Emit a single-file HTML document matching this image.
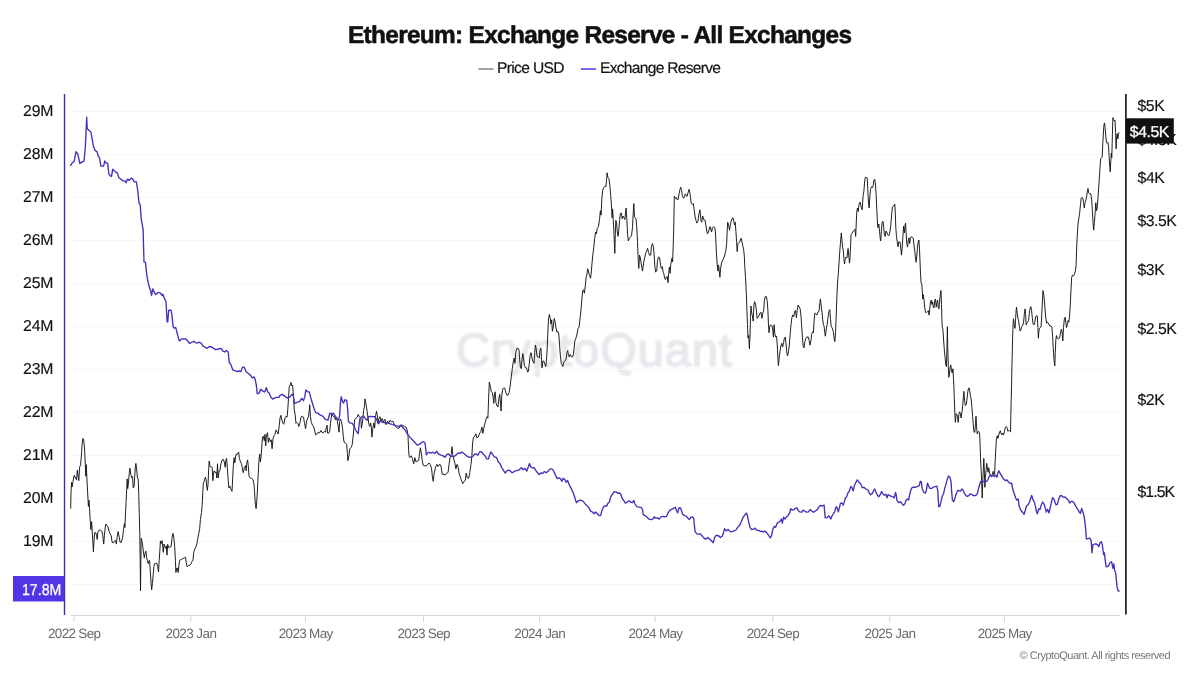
<!DOCTYPE html>
<html lang="en">
<head>
<meta charset="utf-8">
<title>Ethereum: Exchange Reserve - All Exchanges</title>
<style>
  html, body { margin: 0; padding: 0; background: #ffffff; }
  body { width: 1200px; height: 675px; overflow: hidden; font-family: "Liberation Sans", sans-serif; }
  .chart { position: relative; width: 1200px; height: 675px; background: #ffffff; }
  .chart svg { position: absolute; left: 0; top: 0; display: block; }
  svg text { font-family: "Liberation Sans", sans-serif; text-rendering: geometricPrecision; }
  .title { font-size: 24.4px; font-weight: 700; fill: #111111; stroke: #111111; stroke-width: 0.55px; stroke-linejoin: round; }
  .legend { font-size: 15.6px; fill: #141414; stroke: #141414; stroke-width: 0.2px; }
  .ylab { font-size: 15.8px; fill: #111111; stroke: #111111; stroke-width: 0.15px; }
  .xlab { font-size: 13.5px; fill: #6a6a6a; }
  .copy { font-size: 11px; fill: #777777; }
  .wm { font-size: 47px; fill: #e7e7ec; stroke: #e7e7ec; stroke-width: 1.5px; stroke-linejoin: round; }
  .tag { font-size: 15.8px; fill: #ffffff; stroke: #ffffff; stroke-width: 0.3px; }
</style>
</head>
<body>
<div class="chart">
<svg width="1200" height="675" viewBox="0 0 1200 675">
  <defs>
    <filter id="soft" x="-5%" y="-20%" width="110%" height="140%"><feGaussianBlur stdDeviation="1.1"/></filter>
  </defs>

  <!-- title + legend -->
  <text class="title" x="600" y="43" text-anchor="middle" textLength="504" lengthAdjust="spacing">Ethereum: Exchange Reserve - All Exchanges</text>
  <line x1="478.5" y1="69" x2="493.5" y2="69" stroke="#8a8a8a" stroke-width="1.6"/>
  <text class="legend" x="497" y="73" textLength="67.5" lengthAdjust="spacing">Price USD</text>
  <line x1="581" y1="69" x2="596" y2="69" stroke="#5a45e0" stroke-width="1.6"/>
  <text class="legend" x="600" y="73" textLength="121" lengthAdjust="spacing">Exchange Reserve</text>

  <!-- watermark -->
  <text class="wm" x="456" y="366" textLength="276" lengthAdjust="spacing" filter="url(#soft)">CryptoQuant</text>

  <!-- horizontal grid -->
  <g stroke="#f7f7f8" stroke-width="1" shape-rendering="crispEdges">
    <line x1="72" y1="111.4" x2="1120" y2="111.4"/>
    <line x1="72" y1="154.4" x2="1120" y2="154.4"/>
    <line x1="72" y1="197.4" x2="1120" y2="197.4"/>
    <line x1="72" y1="240.4" x2="1120" y2="240.4"/>
    <line x1="72" y1="283.4" x2="1120" y2="283.4"/>
    <line x1="72" y1="326.4" x2="1120" y2="326.4"/>
    <line x1="72" y1="369.4" x2="1120" y2="369.4"/>
    <line x1="72" y1="412.4" x2="1120" y2="412.4"/>
    <line x1="72" y1="455.4" x2="1120" y2="455.4"/>
    <line x1="72" y1="498.4" x2="1120" y2="498.4"/>
    <line x1="72" y1="541.4" x2="1120" y2="541.4"/>
    <line x1="72" y1="584.4" x2="1120" y2="584.4"/>
  </g>

  <!-- bottom axis + ticks -->
  <g stroke="#d6d6d6" stroke-width="1">
    <line x1="71" y1="615.4" x2="1120" y2="615.4"/>
    <line x1="74.0" y1="615.4" x2="74.0" y2="622"/>
    <line x1="190.8" y1="615.4" x2="190.8" y2="622"/>
    <line x1="305.5" y1="615.4" x2="305.5" y2="622"/>
    <line x1="423.5" y1="615.4" x2="423.5" y2="622"/>
    <line x1="539.5" y1="615.4" x2="539.5" y2="622"/>
    <line x1="655.2" y1="615.4" x2="655.2" y2="622"/>
    <line x1="772.8" y1="615.4" x2="772.8" y2="622"/>
    <line x1="889.8" y1="615.4" x2="889.8" y2="622"/>
    <line x1="1004.5" y1="615.4" x2="1004.5" y2="622"/>
  </g>

  <!-- series -->
  <path d="M70.7,508.2 L71.0,492.2 L71.6,482.4 L72.1,486.9 L73.0,481.6 L74.2,475.3 L75.6,478.0 L76.5,479.8 L77.4,470.0 L78.1,476.2 L78.8,480.7 L79.6,467.3 L80.6,464.7 L81.3,456.7 L82.2,443.3 L82.8,438.5 L83.6,439.2 L84.5,447.8 L85.2,462.0 L85.8,476.2 L86.3,464.7 L86.8,476.2 L87.6,492.2 L88.4,506.4 L89.0,500.2 L89.5,508.2 L90.2,520.7 L90.9,529.6 L91.6,521.6 L92.4,533.8 L92.9,542.7 L93.4,551.9 L94.1,539.1 L94.8,532.4 L95.9,532.9 L96.6,535.6 L97.2,539.5 L97.9,532.0 L99.1,530.2 L100.5,529.9 L102.0,531.6 L102.8,535.6 L103.7,544.1 L104.4,535.6 L105.3,526.7 L105.9,524.0 L107.1,525.8 L108.0,527.0 L109.1,531.6 L110.1,533.8 L111.2,535.6 L112.1,542.3 L113.0,543.0 L114.2,541.2 L115.5,540.5 L116.4,544.1 L117.1,537.3 L118.1,531.6 L119.2,537.0 L120.1,542.3 L121.3,542.3 L122.6,537.3 L123.6,529.3 L124.4,523.5 L124.9,527.6 L125.4,516.0 L126.1,501.8 L126.7,488.7 L127.2,478.9 L127.7,488.7 L128.4,483.3 L129.3,472.7 L129.9,468.2 L130.8,474.4 L131.6,477.6 L132.5,476.6 L133.2,487.8 L134.1,486.9 L134.7,476.2 L135.4,466.4 L135.9,463.4 L136.8,470.9 L137.5,478.4 L138.2,478.9 L138.8,495.8 L139.3,515.3 L139.8,535.6 L140.2,562.2 L140.5,591.0 L140.9,558.7 L141.2,538.2 L142.1,541.8 L142.8,546.6 L143.6,553.3 L144.3,557.8 L145.0,553.3 L145.9,551.2 L146.6,556.9 L147.5,561.3 L148.2,563.6 L148.9,560.8 L149.6,560.4 L150.3,571.1 L151.0,581.8 L151.7,589.8 L152.4,583.6 L153.2,574.7 L153.9,566.7 L154.6,563.6 L155.6,563.6 L156.7,563.1 L157.8,566.7 L158.5,572.0 L159.2,560.4 L159.9,549.8 L160.4,541.2 L161.2,543.6 L162.0,540.5 L162.8,547.1 L163.3,552.4 L164.0,544.1 L164.9,546.6 L165.6,548.4 L166.3,545.9 L167.0,555.1 L167.7,544.4 L168.6,547.6 L169.9,547.1 L171.1,546.6 L172.0,538.2 L172.9,533.4 L173.8,537.3 L174.7,546.6 L175.4,560.4 L175.9,572.5 L176.6,568.4 L177.3,567.9 L178.2,572.5 L178.9,565.8 L179.6,560.4 L180.9,559.6 L182.7,558.7 L184.4,557.8 L185.5,557.2 L186.2,562.2 L187.1,566.7 L188.4,565.4 L189.8,565.4 L191.2,563.6 L192.1,561.3 L193.0,560.1 L193.7,552.4 L194.8,548.9 L196.0,546.6 L196.9,543.6 L197.8,538.2 L198.7,534.1 L199.7,528.4 L200.4,519.6 L201.5,512.4 L202.2,504.7 L202.8,492.2 L203.3,483.3 L204.4,480.7 L205.4,477.1 L206.1,479.8 L206.8,486.9 L207.4,490.4 L208.1,483.3 L208.6,470.9 L209.2,461.1 L210.0,466.4 L211.1,467.0 L212.2,467.3 L212.9,480.7 L213.6,472.7 L214.3,470.9 L215.2,472.7 L216.1,471.8 L216.8,478.0 L217.5,463.8 L218.2,478.0 L219.1,470.9 L219.9,470.9 L220.9,463.8 L222.2,459.9 L223.2,459.3 L224.3,462.0 L225.2,467.3 L225.9,459.9 L226.6,458.4 L227.3,467.3 L228.0,478.0 L228.9,487.8 L229.8,486.0 L230.7,488.7 L232.0,491.3 L232.7,478.0 L233.4,464.7 L234.1,457.6 L234.8,462.9 L235.9,454.5 L236.9,454.9 L237.8,453.1 L238.7,452.2 L239.4,458.4 L240.5,462.0 L241.6,463.8 L242.6,470.0 L243.3,472.7 L244.4,467.3 L245.5,465.6 L246.2,470.9 L246.9,462.0 L247.6,459.9 L248.3,465.6 L249.0,476.2 L250.1,478.0 L251.5,478.4 L252.9,479.4 L254.0,484.2 L254.7,494.0 L255.4,504.7 L256.1,508.6 L256.8,501.1 L257.6,486.9 L258.3,472.7 L259.0,460.2 L259.7,454.0 L260.4,462.0 L261.1,456.7 L261.8,446.0 L262.5,437.1 L263.4,436.2 L264.3,440.7 L265.0,434.4 L265.7,446.0 L266.4,436.2 L267.5,432.7 L268.4,442.4 L269.3,438.0 L270.4,441.6 L271.2,439.8 L272.1,448.7 L273.0,438.9 L274.1,435.3 L275.0,434.4 L276.0,430.0 L277.2,432.2 L278.2,434.0 L279.3,425.1 L280.0,418.0 L280.9,415.3 L281.8,419.8 L282.8,423.3 L283.9,424.2 L285.0,418.0 L286.0,416.2 L287.1,417.1 L287.8,409.1 L288.5,398.4 L289.2,386.9 L290.1,385.1 L291.0,382.4 L291.7,386.0 L292.6,385.1 L293.5,396.7 L294.2,409.1 L295.1,414.4 L296.0,423.3 L296.9,422.4 L297.8,423.3 L298.8,426.5 L299.9,423.3 L301.0,417.1 L302.2,416.2 L303.5,417.1 L304.5,423.3 L305.6,428.7 L306.7,420.7 L307.7,418.0 L308.4,417.1 L309.2,410.9 L309.7,404.7 L310.4,416.2 L311.3,422.4 L312.4,425.1 L313.8,426.9 L314.8,431.3 L315.6,434.9 L317.0,434.0 L318.2,432.2 L319.5,433.1 L320.9,430.4 L322.0,432.2 L323.0,433.1 L324.4,431.3 L325.5,432.2 L326.4,426.9 L327.1,425.1 L327.6,433.1 L328.9,433.1 L329.8,430.4 L330.5,423.3 L331.2,418.0 L331.9,413.6 L333.0,416.2 L334.2,416.6 L335.5,419.8 L336.2,417.1 L337.2,420.7 L338.3,426.9 L339.0,432.2 L339.7,421.6 L340.4,418.9 L341.5,421.6 L342.6,428.7 L343.3,436.7 L344.0,442.0 L345.4,442.9 L346.7,444.7 L347.4,453.6 L347.9,460.7 L349.0,455.3 L349.7,449.1 L351.1,447.3 L352.2,444.7 L353.2,435.8 L354.0,426.9 L354.7,419.8 L356.1,418.0 L357.3,417.1 L358.2,414.4 L359.1,416.2 L360.9,418.4 L361.4,428.2 L362.7,421.1 L363.6,410.4 L364.4,406.9 L365.0,398.9 L365.9,403.3 L367.1,411.3 L368.0,417.6 L368.9,424.7 L369.8,426.4 L370.7,422.9 L371.4,428.2 L371.9,437.1 L372.8,428.2 L373.9,422.9 L374.6,428.2 L375.6,415.8 L376.5,411.3 L377.4,415.8 L378.1,423.8 L379.0,418.4 L379.9,416.7 L381.0,421.1 L382.2,418.4 L383.5,422.0 L384.9,419.3 L386.1,424.7 L387.6,421.1 L388.8,422.9 L390.2,420.2 L391.6,422.0 L392.9,421.1 L394.1,423.8 L395.6,426.4 L397.3,428.2 L399.1,428.2 L400.9,424.7 L402.7,425.6 L404.4,426.4 L406.2,427.3 L407.1,430.0 L408.0,435.3 L408.4,446.0 L409.1,456.7 L410.1,457.6 L411.2,455.8 L412.4,458.4 L413.7,463.8 L414.8,457.6 L416.0,462.0 L417.2,461.1 L418.7,460.2 L419.6,453.1 L420.4,447.8 L421.3,453.1 L422.2,460.2 L423.2,465.3 L425.0,465.9 L427.1,465.3 L428.9,463.0 L430.3,464.4 L431.6,468.9 L432.4,476.9 L433.2,481.3 L434.2,473.3 L435.6,467.1 L436.9,464.4 L438.1,466.6 L439.6,464.1 L441.0,466.2 L442.2,474.2 L444.0,474.2 L445.2,475.1 L446.7,473.3 L448.1,472.4 L449.0,464.4 L450.2,457.3 L451.3,453.8 L452.0,446.7 L452.7,454.7 L453.8,459.1 L454.8,462.7 L455.9,468.9 L457.0,464.4 L458.2,467.1 L459.1,473.3 L460.5,477.8 L461.8,481.3 L462.7,483.6 L464.1,481.3 L465.3,480.4 L466.2,473.0 L467.3,477.8 L468.7,478.3 L469.8,472.4 L471.0,464.4 L471.9,455.6 L472.6,443.1 L473.3,437.8 L474.8,436.0 L475.8,433.9 L476.9,437.8 L478.3,436.9 L479.6,433.3 L480.8,431.6 L481.9,427.1 L482.9,433.3 L484.0,427.1 L485.1,422.7 L485.8,420.0 L487.0,416.7 L487.9,418.1 L488.6,398.9 L489.3,382.0 L490.2,385.6 L491.3,391.8 L492.4,392.7 L493.1,397.1 L493.8,403.3 L494.5,393.6 L495.2,391.8 L495.9,402.4 L497.0,406.0 L498.0,406.9 L499.1,397.1 L499.8,394.4 L500.5,404.2 L501.1,411.0 L501.8,395.3 L502.7,389.1 L503.7,387.9 L504.8,388.2 L505.9,392.7 L506.9,395.3 L508.0,395.0 L509.1,392.7 L510.1,386.4 L511.2,377.6 L512.3,368.7 L513.3,361.6 L514.2,358.0 L514.9,363.3 L515.8,352.7 L516.9,348.2 L518.0,348.2 L519.0,350.0 L519.7,359.8 L520.4,366.9 L521.3,368.7 L522.0,359.8 L522.8,353.6 L523.6,358.9 L524.4,365.1 L525.4,367.8 L526.5,367.8 L527.6,372.2 L528.4,371.3 L529.3,363.3 L530.2,355.3 L531.1,352.7 L532.0,358.0 L532.9,361.6 L534.0,363.3 L534.7,352.7 L535.4,345.2 L536.1,348.2 L537.0,356.2 L538.2,357.1 L539.3,358.0 L540.0,350.0 L540.9,348.2 L541.4,356.2 L542.0,367.8 L542.7,361.6 L543.6,360.7 L544.6,363.3 L545.7,366.5 L546.4,361.6 L547.1,350.0 L547.8,333.1 L548.5,318.9 L549.4,314.4 L550.3,318.9 L551.0,324.2 L551.7,319.8 L552.4,331.3 L553.3,326.9 L554.2,318.5 L555.1,321.6 L556.0,327.8 L556.9,332.2 L557.8,331.3 L558.8,334.0 L559.6,345.6 L560.4,356.2 L561.3,363.3 L562.8,366.5 L563.8,362.4 L564.9,360.7 L566.0,359.8 L567.0,352.7 L567.7,350.5 L568.4,354.4 L569.3,357.1 L570.2,354.4 L571.3,356.6 L572.4,357.1 L573.4,354.4 L574.1,348.2 L574.8,341.1 L575.9,338.4 L577.0,334.0 L578.0,328.7 L579.1,326.9 L580.0,318.9 L580.9,310.9 L581.8,300.0 L582.7,291.1 L583.6,289.7 L584.4,293.2 L585.3,285.8 L586.2,276.9 L587.0,273.8 L587.7,268.8 L588.4,271.1 L589.5,275.6 L590.6,278.2 L591.3,272.0 L592.0,263.1 L592.9,254.2 L593.8,247.1 L594.7,238.2 L595.6,232.0 L596.4,233.8 L597.3,228.4 L598.4,226.7 L599.5,219.6 L600.4,210.7 L601.1,215.1 L601.8,199.1 L602.7,190.2 L603.7,187.6 L604.8,186.3 L605.9,186.7 L606.6,179.6 L607.1,172.8 L608.0,177.8 L608.9,178.7 L609.8,184.9 L610.7,195.6 L611.6,208.0 L612.1,217.8 L612.6,208.9 L613.3,220.4 L614.0,234.7 L614.8,253.3 L615.3,234.7 L615.8,220.4 L616.5,222.2 L617.2,231.1 L618.0,236.4 L618.7,231.1 L619.6,220.4 L620.4,213.3 L621.3,213.0 L622.2,218.7 L623.1,216.0 L624.0,217.8 L624.9,219.6 L625.6,211.6 L626.1,208.0 L626.8,218.7 L627.6,234.7 L628.3,240.9 L629.3,238.2 L630.4,237.3 L631.5,235.6 L632.5,227.6 L633.2,213.3 L633.8,203.6 L634.5,216.9 L635.4,217.8 L636.1,219.6 L636.8,227.6 L637.5,241.8 L638.2,259.6 L638.8,268.4 L639.5,255.1 L640.4,257.8 L641.4,264.9 L642.5,271.1 L643.6,263.1 L644.6,257.8 L645.7,253.3 L646.8,250.7 L647.6,248.4 L648.5,252.4 L649.6,255.1 L650.7,255.1 L651.4,247.1 L652.4,243.6 L653.5,247.1 L654.2,256.0 L654.9,266.7 L655.6,272.0 L656.7,271.1 L657.4,261.3 L658.5,256.9 L659.6,257.8 L660.4,264.0 L661.3,268.4 L662.4,266.7 L663.1,272.0 L663.7,273.3 L664.8,278.7 L665.5,279.6 L666.4,276.9 L667.3,276.5 L668.0,282.6 L668.7,273.3 L669.4,267.1 L670.1,273.3 L670.8,264.4 L671.9,258.2 L672.6,261.8 L673.2,246.7 L673.7,228.9 L674.3,196.4 L675.2,198.2 L676.3,197.3 L677.3,200.0 L678.2,199.1 L679.1,193.8 L680.0,189.3 L680.7,187.2 L681.6,190.2 L682.3,195.6 L683.4,198.2 L684.4,197.3 L685.2,193.8 L685.9,194.7 L686.9,196.4 L688.0,192.9 L689.1,189.3 L689.8,192.0 L690.5,197.3 L691.2,203.6 L692.3,204.4 L693.3,203.6 L694.2,209.8 L695.1,216.9 L696.0,220.4 L696.9,223.1 L698.0,221.3 L698.7,215.1 L700.0,209.8 L700.9,220.4 L701.8,222.2 L702.7,216.0 L703.6,219.6 L705.0,220.1 L706.0,225.8 L706.8,231.1 L707.5,233.8 L708.5,232.0 L709.6,227.2 L710.3,226.7 L711.0,230.2 L711.7,232.0 L712.4,227.6 L713.5,226.7 L714.6,227.2 L715.3,231.1 L715.8,240.0 L716.5,254.2 L717.2,264.9 L718.0,271.1 L718.5,264.9 L719.2,270.2 L719.9,277.3 L720.6,268.4 L721.7,262.2 L723.1,259.6 L724.5,256.0 L725.8,250.7 L726.7,243.6 L727.2,231.1 L727.7,222.2 L728.6,224.9 L729.5,230.2 L730.2,225.8 L731.1,221.3 L732.0,218.7 L733.1,217.8 L733.8,221.3 L734.5,224.9 L735.2,222.2 L735.9,231.1 L736.6,241.8 L737.2,251.6 L737.9,243.6 L738.8,242.7 L739.8,242.1 L740.5,239.1 L741.2,238.2 L742.0,241.8 L742.7,245.3 L743.6,248.9 L744.3,256.0 L744.8,266.7 L745.5,277.3 L746.4,294.4 L746.9,310.4 L747.5,324.7 L748.0,338.0 L748.7,335.3 L749.4,348.7 L750.0,335.3 L750.5,317.6 L751.0,306.0 L751.7,313.1 L752.4,315.8 L753.2,321.1 L753.9,305.1 L754.6,301.6 L755.5,304.2 L756.4,310.4 L757.1,318.4 L758.0,317.2 L759.0,315.8 L760.1,313.1 L761.0,312.2 L761.9,318.4 L762.8,313.1 L763.6,311.3 L764.4,300.7 L765.2,296.6 L766.3,296.6 L767.2,300.7 L767.9,310.4 L768.4,322.9 L769.0,332.7 L769.7,326.4 L770.8,324.7 L771.8,325.6 L772.7,329.1 L773.4,337.1 L774.1,324.7 L774.8,333.6 L775.7,337.1 L776.6,336.2 L777.3,346.0 L777.9,358.4 L778.4,365.6 L779.3,356.7 L780.0,351.3 L780.9,346.0 L781.8,343.3 L782.7,346.9 L783.6,342.4 L784.4,338.0 L785.3,337.1 L786.2,346.0 L786.9,353.1 L787.6,355.8 L788.5,351.3 L789.2,346.0 L790.1,335.3 L791.0,324.7 L791.9,317.6 L792.8,314.9 L793.7,316.7 L794.6,311.3 L795.5,310.4 L796.4,317.6 L797.2,310.4 L798.1,305.1 L799.2,306.9 L800.1,308.7 L801.0,315.8 L801.7,326.4 L802.4,337.1 L803.1,346.0 L804.0,347.8 L804.9,341.6 L806.0,338.0 L807.0,337.1 L808.1,336.8 L809.2,340.7 L810.0,345.1 L810.9,340.7 L811.8,333.6 L812.7,331.8 L813.4,332.7 L814.1,321.1 L814.8,313.1 L815.9,314.0 L817.0,314.9 L818.0,312.2 L819.1,310.4 L819.8,303.3 L820.4,298.9 L821.1,305.1 L822.0,312.2 L822.7,319.3 L823.4,324.7 L824.1,326.4 L824.8,332.7 L825.3,336.2 L826.2,330.0 L827.1,324.7 L828.0,317.6 L828.9,311.3 L829.8,309.6 L830.5,319.3 L831.2,326.4 L832.3,328.2 L833.3,331.8 L834.2,338.9 L834.9,341.6 L835.6,331.8 L836.2,315.8 L836.9,296.2 L837.6,282.0 L838.3,273.8 L839.0,263.1 L839.7,252.4 L840.4,243.6 L841.0,236.4 L841.3,232.9 L841.9,240.0 L842.6,247.1 L843.3,250.7 L844.0,259.6 L844.5,264.0 L845.2,259.6 L846.1,256.9 L847.0,257.8 L847.6,251.6 L848.1,248.5 L848.8,256.0 L849.5,263.1 L850.0,258.7 L850.6,245.3 L851.1,234.7 L852.2,232.9 L853.2,231.1 L854.3,230.2 L855.0,229.3 L855.7,236.4 L856.3,222.2 L856.8,211.6 L857.5,208.0 L858.2,211.6 L858.9,205.3 L859.6,202.3 L860.4,202.7 L861.3,207.6 L862.2,209.8 L863.1,195.6 L863.8,192.0 L864.5,183.1 L865.2,177.4 L866.3,177.4 L867.2,177.8 L867.9,192.0 L868.6,204.4 L869.2,208.0 L869.9,195.6 L870.6,189.3 L871.5,186.7 L872.4,187.6 L873.1,185.8 L873.8,180.4 L874.7,179.2 L875.4,184.0 L876.1,193.8 L876.8,209.8 L877.5,224.0 L878.0,227.6 L878.8,224.0 L879.5,231.1 L880.2,238.2 L880.7,240.9 L881.4,231.1 L882.1,222.2 L883.0,221.3 L883.7,227.6 L884.4,234.7 L885.2,236.4 L885.9,231.1 L886.8,232.0 L887.6,234.7 L888.9,235.6 L889.8,232.9 L890.7,225.8 L891.6,215.1 L892.4,207.1 L893.3,206.6 L894.0,205.3 L894.8,204.1 L895.3,213.3 L895.8,227.6 L896.5,236.4 L897.2,241.8 L898.0,246.8 L898.8,241.8 L900.1,242.1 L900.8,248.9 L901.5,255.1 L902.2,247.1 L902.9,236.4 L903.6,226.1 L904.4,232.9 L905.1,224.9 L905.6,223.1 L906.1,232.9 L906.8,243.6 L907.6,247.1 L908.3,240.0 L909.0,237.9 L909.7,243.6 L910.4,238.2 L911.1,236.8 L912.2,237.3 L913.2,238.2 L914.0,245.3 L914.7,250.7 L915.4,256.9 L916.1,262.2 L916.8,256.0 L917.5,247.1 L918.2,241.8 L918.9,240.0 L919.5,248.9 L920.0,261.3 L920.5,273.8 L921.1,283.1 L921.8,284.0 L922.3,292.0 L922.8,299.1 L923.4,294.7 L924.1,300.9 L924.8,308.0 L925.5,312.4 L926.6,312.4 L927.6,311.6 L928.4,310.7 L929.1,315.1 L929.8,308.0 L930.5,301.8 L931.2,300.0 L931.9,304.4 L932.6,301.8 L933.3,307.1 L934.0,308.0 L934.8,300.0 L935.5,299.1 L936.2,307.1 L936.9,302.7 L937.6,300.0 L938.3,308.0 L939.0,308.9 L939.7,300.0 L940.4,293.8 L941.0,290.6 L941.5,304.4 L941.9,318.7 L942.2,326.7 L942.9,329.3 L943.6,340.0 L944.4,350.7 L945.1,357.8 L945.8,364.9 L946.5,366.7 L947.0,345.3 L947.4,326.7 L947.7,345.3 L948.3,366.7 L948.8,377.3 L949.5,373.8 L950.2,366.7 L950.8,364.9 L951.5,370.2 L952.2,372.9 L952.9,368.8 L953.4,377.3 L953.8,384.2 L954.3,398.4 L954.8,412.7 L955.4,422.4 L956.1,413.6 L956.8,414.4 L957.5,416.2 L958.2,422.4 L958.9,414.4 L959.6,411.8 L960.4,413.6 L961.1,418.0 L962.0,411.8 L962.7,405.6 L963.4,396.7 L963.9,391.3 L964.6,400.2 L965.3,405.6 L966.2,404.7 L966.9,400.2 L967.6,393.1 L968.4,388.7 L969.1,387.8 L969.8,391.3 L970.5,396.7 L971.2,399.3 L971.9,407.3 L972.6,416.2 L973.3,425.1 L974.0,432.2 L974.8,432.2 L975.5,423.3 L976.0,416.2 L976.5,425.1 L977.2,434.0 L978.0,432.2 L978.7,431.3 L979.6,433.1 L980.1,444.7 L980.6,458.9 L981.2,471.3 L981.7,482.0 L982.2,498.0 L982.8,480.2 L983.3,469.6 L983.8,458.4 L984.4,473.1 L984.9,487.3 L985.4,478.4 L986.1,469.6 L986.7,463.3 L987.4,467.8 L988.1,472.2 L988.8,467.8 L989.5,473.1 L990.4,474.9 L991.5,475.8 L992.5,474.0 L993.2,471.3 L994.0,474.9 L994.7,473.1 L995.2,460.7 L995.7,450.0 L996.4,439.3 L997.2,435.8 L997.9,438.4 L998.8,434.9 L999.6,431.9 L1000.4,430.8 L1001.1,434.0 L1001.8,434.9 L1002.8,433.1 L1003.6,434.9 L1004.4,431.3 L1005.3,427.8 L1006.2,426.5 L1007.1,427.8 L1008.0,431.3 L1008.9,430.4 L1009.8,431.3 L1010.5,431.9 L1010.8,416.2 L1011.2,400.2 L1011.6,384.2 L1011.9,366.7 L1012.3,352.4 L1012.6,338.2 L1013.0,325.8 L1013.5,318.7 L1014.0,323.1 L1014.6,327.6 L1015.1,328.4 L1015.6,318.7 L1016.2,309.8 L1016.5,307.1 L1017.2,313.3 L1018.0,318.7 L1018.7,321.3 L1019.4,326.7 L1020.1,331.1 L1020.8,330.2 L1021.5,326.7 L1022.6,325.8 L1023.6,322.2 L1024.4,313.3 L1025.1,308.9 L1025.6,313.3 L1026.1,324.9 L1026.8,323.1 L1027.6,322.2 L1028.6,320.4 L1029.3,313.3 L1030.2,308.0 L1030.9,306.6 L1031.6,310.7 L1032.4,318.7 L1033.1,324.0 L1034.0,324.9 L1034.8,322.2 L1035.6,316.9 L1036.4,315.5 L1037.3,316.0 L1037.9,327.6 L1038.4,338.2 L1038.9,331.1 L1039.5,328.4 L1040.0,327.6 L1041.1,326.7 L1041.8,313.3 L1042.5,299.1 L1043.0,290.6 L1043.9,295.6 L1044.8,306.2 L1045.7,316.9 L1046.6,323.1 L1047.6,322.2 L1048.7,324.0 L1049.8,326.1 L1050.8,325.8 L1051.9,327.2 L1052.6,336.4 L1053.3,348.9 L1054.0,359.6 L1054.8,365.8 L1055.3,352.4 L1055.8,340.0 L1056.5,335.6 L1057.4,338.2 L1058.3,339.1 L1059.4,338.2 L1060.4,333.8 L1061.3,329.3 L1062.0,331.1 L1062.8,340.9 L1063.5,327.6 L1064.4,318.7 L1065.1,317.2 L1065.8,322.2 L1066.5,327.6 L1067.4,324.0 L1068.1,320.4 L1068.8,322.2 L1069.5,316.9 L1070.2,306.2 L1070.9,292.0 L1071.6,277.8 L1072.4,275.1 L1073.4,276.0 L1074.5,274.2 L1075.4,270.7 L1076.1,265.3 L1076.6,248.9 L1077.3,234.7 L1078.0,224.0 L1078.8,218.7 L1079.6,213.3 L1080.5,204.4 L1081.2,198.2 L1082.0,197.3 L1082.8,198.2 L1083.6,202.7 L1084.3,208.0 L1085.0,202.7 L1085.9,200.0 L1086.8,195.6 L1087.5,190.2 L1088.0,188.4 L1088.7,192.9 L1089.8,193.8 L1090.8,193.8 L1091.6,199.1 L1092.3,209.8 L1093.0,222.2 L1093.7,230.2 L1094.4,222.2 L1095.1,213.3 L1095.8,202.7 L1096.5,210.7 L1097.2,208.0 L1098.0,197.3 L1098.7,186.9 L1099.4,177.1 L1100.1,166.4 L1100.8,158.4 L1101.5,157.6 L1102.2,157.2 L1102.8,143.3 L1103.5,130.9 L1104.0,124.7 L1104.5,122.9 L1105.1,127.3 L1105.8,136.2 L1106.5,142.4 L1107.2,143.3 L1107.9,142.4 L1108.6,146.9 L1109.2,157.6 L1109.7,166.4 L1110.2,171.8 L1110.8,161.1 L1111.3,153.1 L1111.8,157.6 L1112.4,134.4 L1112.9,117.6 L1113.6,119.3 L1114.3,121.1 L1115.0,120.2 L1115.6,132.7 L1116.1,148.7 L1116.6,138.0 L1117.2,133.6 L1117.9,138.9 L1118.4,134.4 L1118.9,132.7" fill="none" stroke="#141414" stroke-width="0.95" stroke-linejoin="round" stroke-linecap="round"/>
  <path d="M70.7,165.4 L72.1,163.1 L74.2,161.3 L76.0,151.6 L77.8,154.2 L79.9,163.5 L82.2,161.9 L84.0,161.3 L85.4,146.2 L86.7,117.2 L87.2,128.4 L88.8,130.2 L90.9,132.0 L93.4,146.2 L95.2,150.7 L97.0,151.6 L98.2,156.0 L99.5,157.8 L100.9,166.1 L103.6,166.1 L104.8,161.0 L106.2,163.1 L107.6,163.1 L108.9,173.8 L110.7,176.4 L111.6,176.1 L112.6,169.3 L115.1,171.5 L117.2,172.9 L119.0,177.7 L121.3,179.5 L123.1,180.9 L124.9,180.9 L126.0,182.7 L127.6,179.1 L129.3,180.4 L131.1,178.2 L132.5,178.6 L134.3,181.8 L136.4,181.8 L137.5,188.9 L139.1,203.1 L140.2,204.9 L141.3,219.6 L143.1,229.3 L143.6,248.0 L144.0,261.9 L145.4,262.2 L147.0,276.4 L148.8,285.3 L150.6,290.7 L151.6,295.5 L152.7,288.9 L154.4,292.4 L155.7,294.6 L158.0,292.4 L160.3,292.8 L162.1,295.6 L162.8,294.2 L164.6,298.7 L166.0,301.7 L167.1,321.8 L167.8,321.8 L168.7,310.2 L171.0,310.2 L172.0,315.6 L173.1,326.6 L174.2,328.0 L175.8,327.6 L177.6,335.1 L179.3,341.0 L182.0,338.7 L183.8,339.2 L185.6,338.7 L187.3,340.4 L189.5,343.5 L191.8,342.2 L194.1,341.3 L195.3,342.6 L197.1,343.1 L198.9,342.2 L201.2,343.1 L203.0,346.1 L205.1,347.2 L206.9,348.4 L209.0,346.7 L211.3,346.7 L213.6,348.4 L215.8,349.7 L218.4,349.0 L221.1,348.4 L222.9,351.1 L224.7,352.0 L226.4,350.6 L228.2,352.0 L229.3,362.7 L230.9,364.4 L232.7,369.8 L235.0,370.7 L237.1,371.6 L238.9,371.0 L241.0,371.6 L242.4,367.1 L244.2,367.1 L246.0,371.6 L248.1,373.3 L250.4,375.1 L252.2,377.8 L254.0,376.9 L255.2,379.6 L256.3,384.9 L257.2,393.8 L259.3,392.9 L260.6,389.3 L262.9,391.1 L264.7,392.0 L266.4,387.6 L267.7,392.0 L269.1,392.9 L270.9,397.3 L272.7,399.1 L274.4,398.2 L276.6,397.3 L278.9,397.3 L280.0,395.3 L282.1,394.4 L284.4,395.9 L287.1,398.0 L289.8,397.1 L292.1,394.1 L293.3,396.2 L294.6,403.3 L296.9,402.4 L299.6,401.6 L301.7,398.4 L303.5,400.7 L304.9,396.2 L305.8,390.0 L307.6,391.8 L309.3,391.8 L310.6,397.1 L312.4,403.3 L314.1,408.7 L315.6,412.6 L317.7,413.1 L320.0,414.9 L322.7,416.1 L325.3,419.3 L328.0,420.2 L329.8,413.1 L331.9,414.0 L333.3,413.1 L335.1,415.8 L336.9,418.4 L338.3,420.2 L339.6,415.8 L340.4,403.3 L341.2,396.6 L342.6,401.6 L343.6,403.0 L344.9,399.8 L346.7,400.1 L347.6,408.7 L348.4,421.1 L349.7,422.9 L352.0,423.2 L353.8,425.6 L355.6,430.0 L357.3,432.7 L358.2,433.6 L359.1,424.7 L360.0,418.4 L361.8,416.7 L363.6,416.1 L365.3,418.4 L367.1,420.2 L368.4,416.7 L370.7,416.3 L373.3,416.7 L375.1,416.7 L376.9,420.2 L378.7,423.8 L379.9,421.1 L382.2,422.0 L384.9,422.9 L387.6,423.2 L390.2,423.8 L392.9,424.7 L395.6,425.6 L398.2,426.4 L400.9,425.6 L402.7,427.3 L404.4,429.1 L406.2,431.8 L408.0,435.0 L409.8,437.1 L412.4,439.8 L415.1,442.8 L417.2,445.1 L419.6,444.2 L421.7,442.4 L423.6,441.6 L425.1,443.3 L425.8,449.6 L426.3,454.9 L428.4,452.2 L430.8,453.1 L432.9,452.2 L434.7,453.5 L436.8,451.3 L438.2,454.0 L438.7,454.1 L441.0,455.2 L443.1,455.9 L444.9,457.3 L446.7,454.7 L448.1,453.8 L449.9,455.6 L452.0,456.4 L454.1,456.4 L456.4,454.7 L458.2,452.9 L460.0,453.4 L461.8,452.0 L464.1,453.8 L466.2,455.6 L468.4,457.0 L470.7,457.3 L472.8,456.4 L474.2,454.7 L476.0,453.8 L477.8,455.2 L479.6,452.0 L481.3,451.6 L483.1,454.1 L484.9,455.6 L486.7,458.8 L488.4,459.1 L489.7,454.7 L490.8,452.0 L492.5,454.1 L494.3,457.0 L496.4,457.3 L498.2,461.8 L500.0,463.6 L501.8,467.6 L503.6,470.7 L505.3,473.0 L507.1,470.7 L508.9,470.1 L510.7,471.6 L512.4,472.8 L514.6,471.2 L516.9,470.7 L519.2,469.8 L521.3,467.6 L523.1,469.8 L524.9,468.4 L526.7,471.2 L528.4,466.6 L529.5,463.6 L530.6,466.6 L532.4,468.0 L534.1,467.6 L535.9,470.7 L537.7,473.0 L539.1,474.6 L540.9,473.0 L542.7,473.3 L544.4,471.6 L546.2,472.8 L548.0,471.2 L550.1,468.9 L551.9,468.9 L553.7,471.2 L555.5,475.1 L557.2,478.7 L559.0,477.8 L560.4,478.7 L561.9,481.3 L563.1,478.3 L564.9,479.6 L566.1,482.2 L567.6,480.4 L569.3,484.9 L571.1,488.4 L572.9,492.0 L574.7,497.3 L576.4,502.7 L578.2,500.9 L580.4,500.1 L582.8,500.8 L584.9,503.6 L587.0,505.8 L588.8,507.6 L590.6,511.1 L592.4,512.0 L594.1,513.8 L595.6,512.0 L597.3,513.8 L599.1,515.6 L600.5,515.6 L601.8,511.1 L603.6,506.7 L605.3,505.8 L606.6,506.1 L608.0,503.1 L609.4,502.2 L610.7,496.9 L612.4,494.2 L614.2,491.6 L616.0,491.9 L617.8,493.3 L619.6,493.0 L620.8,494.2 L621.9,497.8 L623.6,500.4 L625.4,503.1 L627.2,502.2 L629.0,500.8 L630.8,502.2 L632.5,502.6 L633.8,500.4 L635.0,504.0 L636.8,506.7 L639.1,507.2 L641.4,507.6 L642.7,510.2 L643.2,514.7 L645.0,515.6 L647.1,517.3 L648.9,519.1 L651.0,519.6 L652.8,519.1 L654.2,516.8 L655.6,518.2 L657.4,517.9 L659.2,519.1 L661.0,516.8 L663.1,516.4 L665.2,516.8 L666.7,516.1 L668.1,512.9 L669.9,510.2 L671.6,509.3 L673.4,508.4 L675.2,507.2 L676.4,510.2 L677.7,512.9 L678.8,508.4 L680.0,507.6 L681.2,509.7 L682.7,514.3 L684.4,515.6 L686.2,516.1 L688.0,518.2 L689.4,519.6 L690.8,517.3 L692.4,516.8 L693.7,518.2 L694.4,525.3 L695.1,531.6 L696.9,533.9 L698.7,534.2 L700.4,533.9 L702.2,536.0 L704.0,538.1 L705.8,539.2 L707.6,537.4 L709.3,538.7 L711.1,540.4 L713.2,542.8 L714.7,537.4 L716.4,535.1 L718.2,536.0 L718.7,535.7 L720.4,537.5 L722.2,536.2 L723.5,532.7 L724.5,528.6 L726.3,530.9 L728.1,529.5 L729.9,531.4 L731.6,531.8 L733.8,530.9 L735.9,530.0 L737.7,527.3 L739.5,525.6 L741.2,522.0 L743.0,517.6 L744.8,514.9 L746.6,513.1 L747.6,516.7 L748.9,522.9 L750.1,527.3 L751.6,529.6 L753.3,529.1 L755.1,528.2 L756.9,530.4 L758.7,530.4 L760.4,531.4 L762.2,531.2 L763.6,532.1 L764.9,530.9 L766.7,532.7 L768.4,535.0 L770.2,538.0 L771.5,535.7 L772.9,529.1 L774.3,526.4 L775.6,527.3 L777.3,522.9 L779.1,522.0 L780.4,520.8 L781.4,519.0 L782.3,523.2 L783.6,517.2 L785.0,519.0 L786.2,517.2 L788.0,515.4 L789.8,512.6 L790.7,508.7 L792.1,510.1 L793.9,509.6 L795.6,508.3 L796.9,507.8 L798.1,510.4 L799.9,511.9 L801.7,512.2 L803.1,510.1 L804.9,511.3 L806.7,512.2 L808.4,511.9 L810.2,509.6 L812.0,511.3 L813.8,512.2 L815.6,510.8 L817.3,509.6 L818.8,506.9 L820.5,505.5 L822.3,506.0 L824.1,505.1 L824.6,511.3 L825.2,517.6 L826.9,517.9 L828.7,515.8 L829.8,517.2 L830.8,519.0 L831.9,516.1 L833.3,514.0 L834.8,511.3 L836.0,506.9 L836.9,507.2 L838.3,511.9 L839.6,506.9 L840.4,503.3 L841.9,503.0 L843.3,505.1 L844.4,501.6 L845.4,498.0 L846.7,496.6 L847.9,493.0 L849.3,491.2 L850.8,486.4 L852.0,487.7 L853.2,490.9 L854.7,484.7 L856.1,482.0 L857.3,479.9 L858.6,482.0 L859.2,482.2 L861.0,484.4 L862.2,487.9 L864.0,487.2 L865.8,489.0 L868.1,490.2 L869.3,493.2 L870.6,494.7 L872.4,493.2 L873.8,490.2 L874.7,489.0 L875.9,492.0 L877.3,495.0 L878.8,496.8 L880.2,494.7 L881.6,491.5 L882.7,493.8 L884.1,495.0 L885.9,494.3 L887.1,497.9 L888.0,494.7 L889.8,495.6 L891.6,496.4 L893.0,496.8 L894.2,497.9 L895.5,492.5 L896.2,494.7 L896.9,500.4 L898.7,502.7 L900.4,501.8 L902.2,503.9 L903.6,505.3 L904.9,503.6 L906.1,500.0 L907.6,499.1 L908.6,500.0 L909.7,494.7 L910.8,490.2 L912.0,487.6 L913.8,487.2 L915.6,487.2 L917.3,486.7 L919.1,485.8 L920.4,481.3 L921.4,481.9 L922.1,488.4 L923.6,492.0 L925.3,493.2 L926.4,490.2 L927.5,483.1 L928.5,485.4 L929.8,488.4 L931.6,488.4 L933.3,487.2 L935.1,486.7 L936.9,486.1 L937.8,491.1 L938.3,500.0 L938.8,506.8 L939.9,506.2 L941.0,501.8 L942.2,496.4 L943.5,493.8 L944.9,487.6 L945.8,484.9 L947.0,480.4 L948.4,476.0 L949.9,477.2 L951.1,482.2 L951.6,491.1 L952.4,500.0 L953.8,501.8 L954.7,499.1 L955.6,495.6 L957.0,492.0 L958.2,490.2 L959.5,491.1 L960.5,491.1 L961.8,489.0 L963.0,490.2 L964.4,493.2 L965.9,495.6 L967.3,496.4 L968.9,495.6 L970.1,493.8 L971.6,494.3 L973.3,495.6 L975.1,495.6 L976.9,494.7 L978.0,491.1 L979.0,486.7 L980.4,482.2 L981.7,480.4 L983.1,481.3 L984.9,481.9 L986.7,481.3 L987.9,479.6 L989.0,476.9 L990.2,474.8 L991.5,476.5 L992.9,475.5 L994.3,476.5 L995.6,475.1 L996.8,477.2 L997.9,473.3 L998.8,470.7 L999.9,472.9 L1001.7,475.9 L1003.5,479.1 L1005.2,480.5 L1007.0,480.0 L1008.8,482.3 L1010.2,483.6 L1011.6,483.0 L1012.9,489.8 L1014.1,493.3 L1015.6,497.8 L1016.8,500.1 L1018.2,499.0 L1019.1,505.8 L1020.5,509.7 L1022.3,512.0 L1024.1,514.3 L1025.3,510.2 L1026.6,505.8 L1028.0,504.9 L1029.4,502.2 L1030.7,498.3 L1031.6,495.5 L1033.0,499.6 L1034.4,502.2 L1035.5,506.7 L1036.5,512.0 L1037.4,513.8 L1038.7,509.0 L1040.1,509.3 L1041.3,504.9 L1042.6,501.9 L1044.0,504.0 L1045.4,508.4 L1046.3,512.0 L1047.6,509.3 L1049.0,512.9 L1050.2,507.6 L1051.5,502.2 L1052.5,497.8 L1053.8,498.7 L1055.0,502.2 L1056.1,504.9 L1057.3,504.4 L1058.6,499.6 L1060.0,496.0 L1061.4,495.5 L1063.2,497.2 L1065.0,496.9 L1066.8,498.7 L1068.5,500.4 L1069.8,503.1 L1071.0,501.3 L1072.4,501.3 L1074.2,503.1 L1076.0,506.7 L1077.8,509.3 L1079.2,512.0 L1080.4,513.2 L1081.7,508.4 L1082.8,512.0 L1084.0,515.6 L1084.9,521.8 L1085.8,530.7 L1086.3,538.7 L1088.1,538.7 L1089.9,538.1 L1091.1,540.4 L1091.6,546.7 L1092.0,552.9 L1092.9,544.9 L1094.7,544.0 L1096.4,544.0 L1097.7,544.9 L1098.8,546.7 L1100.0,542.8 L1101.4,541.7 L1102.3,544.9 L1103.0,550.2 L1103.7,554.7 L1104.4,552.8 L1105.3,560.6 L1106.2,566.8 L1108.4,566.1 L1110.0,562.8 L1111.6,561.7 L1112.9,568.3 L1113.8,563.9 L1114.7,570.6 L1115.6,572.8 L1116.4,580.6 L1117.3,588.3 L1118.2,591.0 L1119.1,591.0" fill="none" stroke="#4131bd" stroke-width="1.35" stroke-linejoin="round" stroke-linecap="round"/>

  <!-- vertical axes -->
  <line x1="64.5" y1="94" x2="64.5" y2="615" stroke="#3a2cac" stroke-width="1.4"/>
  <line x1="1125.9" y1="94" x2="1125.9" y2="614.5" stroke="#000000" stroke-width="1.5"/>

  <!-- left axis labels -->
  <g class="ylab" text-anchor="end">
    <text x="53.5" y="116" textLength="30.4" lengthAdjust="spacing">29M</text>
    <text x="53.5" y="159" textLength="30.4" lengthAdjust="spacing">28M</text>
    <text x="53.5" y="202" textLength="30.4" lengthAdjust="spacing">27M</text>
    <text x="53.5" y="245" textLength="30.4" lengthAdjust="spacing">26M</text>
    <text x="53.5" y="288" textLength="30.4" lengthAdjust="spacing">25M</text>
    <text x="53.5" y="331" textLength="30.4" lengthAdjust="spacing">24M</text>
    <text x="53.5" y="374" textLength="30.4" lengthAdjust="spacing">23M</text>
    <text x="53.5" y="417" textLength="30.4" lengthAdjust="spacing">22M</text>
    <text x="53.5" y="460" textLength="30.4" lengthAdjust="spacing">21M</text>
    <text x="53.5" y="503" textLength="30.4" lengthAdjust="spacing">20M</text>
    <text x="53.5" y="546" textLength="30.4" lengthAdjust="spacing">19M</text>
  </g>
  <!-- right axis labels -->
  <g class="ylab">
    <text x="1137.5" y="111" textLength="27.2" lengthAdjust="spacing">$5K</text>
    <text x="1137.5" y="145" textLength="39.3" lengthAdjust="spacing">$4.5K</text>
    <text x="1137.5" y="183" textLength="27.4" lengthAdjust="spacing">$4K</text>
    <text x="1137.5" y="226" textLength="39.3" lengthAdjust="spacing">$3.5K</text>
    <text x="1137.5" y="275" textLength="27.2" lengthAdjust="spacing">$3K</text>
    <text x="1137.5" y="334" textLength="39.3" lengthAdjust="spacing">$2.5K</text>
    <text x="1137.5" y="405" textLength="27.2" lengthAdjust="spacing">$2K</text>
    <text x="1137.5" y="497" textLength="37.6" lengthAdjust="spacing">$1.5K</text>
  </g>
  <!-- x axis labels -->
  <g class="xlab" text-anchor="middle">
    <text x="74.5" y="638" textLength="53" lengthAdjust="spacing">2022 Sep</text>
    <text x="191.2" y="638" textLength="51.5" lengthAdjust="spacing">2023 Jan</text>
    <text x="306.0" y="638" textLength="54.5" lengthAdjust="spacing">2023 May</text>
    <text x="424.0" y="638" textLength="53" lengthAdjust="spacing">2023 Sep</text>
    <text x="540.0" y="638" textLength="51.5" lengthAdjust="spacing">2024 Jan</text>
    <text x="655.8" y="638" textLength="54.5" lengthAdjust="spacing">2024 May</text>
    <text x="773.2" y="638" textLength="53" lengthAdjust="spacing">2024 Sep</text>
    <text x="890.2" y="638" textLength="51.5" lengthAdjust="spacing">2025 Jan</text>
    <text x="1005.0" y="638" textLength="54.5" lengthAdjust="spacing">2025 May</text>
  </g>

  <!-- current value tags -->
  <rect x="13" y="576" width="51.2" height="25.5" fill="#5036e4"/>
  <text class="tag" x="61.3" y="595" text-anchor="end" textLength="39.3" lengthAdjust="spacingAndGlyphs">17.8M</text>
  <rect x="1126" y="118.3" width="47.8" height="25.3" fill="#111111"/>
  <text class="tag" x="1129.8" y="137" textLength="39.5" lengthAdjust="spacing">$4.5K</text>

  <text class="copy" x="1170.6" y="658.5" text-anchor="end" textLength="151" lengthAdjust="spacing">© CryptoQuant. All rights reserved</text>
</svg>
</div>
</body>
</html>
